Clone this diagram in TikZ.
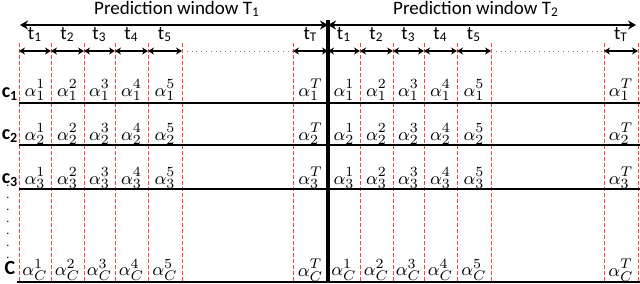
\documentclass[tikz,border=0pt]{standalone}
\usepackage{fontspec}
\setmainfont{Carlito}
\usetikzlibrary{arrows.meta}
\tikzset{
  tickline/.style={red!75, dashed, line width=0.5pt, dash pattern=on 2pt off 1pt},
  steparrow/.style={{Stealth[length=3pt,width=3.5pt]}-{Stealth[length=3pt,width=3.5pt]}, line width=0.8pt},
  winarrow/.style={{Stealth[length=4pt,width=4.5pt]}-{Stealth[length=4pt,width=4.5pt]}, line width=1pt},
  rowline/.style={line width=0.7pt},
  alab/.style={font=\fontsize{9.5}{10}\selectfont, inner sep=0pt},
  clab/.style={font=\fontsize{10}{11}\selectfont\bfseries, inner sep=0pt}
}
\begin{document}
\begin{tikzpicture}[x=0.5pt,y=-0.5pt]
\useasboundingbox (0,0) rectangle (640,283);
% time marks
\foreach \x [count=\i] in {19,51,84,115,148,182,293,328}
  \coordinate (a\i) at (\x,51);
\foreach \x [count=\i] in {328,360,393,424,457,491,604,638}
  \coordinate (b\i) at (\x,51);
\foreach \x in {19,51,84,115,148,182,293,360,393,424,457,491,604,638}
  \draw[tickline] (\x,43) -- (\x,283);
% rows
\draw[rowline] (19,103) -- (640,103);
\draw[rowline] (19,145) -- (640,145);
\draw[line width=1.2pt] (19,189) -- (640,189);
\draw[line width=1pt] (17,282) -- (640,282);
\draw[line width=1.6pt] (328,20) -- (328,283);
% prediction windows
\coordinate (wl) at (20,25);
\coordinate (wm) at (328,25);
\coordinate (wr) at (636,25);
\draw[winarrow] (wl) -- (wm);
\draw[winarrow] (wm) -- (wr);
\node[font=\fontsize{9.5}{10}\selectfont] (win1) at (177,9) {Prediction window T\textsubscript{1}};
\node[font=\fontsize{9.5}{10}\selectfont] (win2) at (476,9) {Prediction window T\textsubscript{2}};
% steps
\foreach \i/\j/\k in {1/2/1,2/3/2,3/4/3,4/5/4,5/6/5,7/8/T} {
  \draw[steparrow] (a\i) -- node[above=1pt, font=\fontsize{9.5}{10}\selectfont] (ta\k) {t\textsubscript{\k}} (a\j);
  \draw[steparrow] (b\i) -- node[above=1pt, font=\fontsize{9.5}{10}\selectfont] (tb\k) {t\textsubscript{\k}} (b\j);
}
\draw[dotted, gray] (a6) -- (a7);
\draw[dotted, gray] (b6) -- (b7);
% channel labels
\node[clab] (c1) at (10,94) {c\textsubscript{1}};
\node[clab] (c2) at (10,136) {c\textsubscript{2}};
\node[clab] (c3) at (10,180) {c\textsubscript{3}};
\node[clab] (cC) at (10,268) {C};
\foreach \y [count=\n] in {186,198,210,222,234,246,258}
  \node[inner sep=0pt, font=\fontsize{6}{6}\selectfont] (dot\n) at (8,\y) {.};
% coefficients
\foreach \r/\y in {1/90,2/134,3/178,C/270} {
  \foreach \x/\k in {35/1,67.5/2,99.5/3,131.5/4,165/5,310.5/T} {
    \node[alab] (pa\r\k) at (\x,\y) {$\alpha_{\r}^{\k}$};
  }
  \foreach \x/\k in {344/1,376.5/2,408.5/3,440.5/4,474/5,621/T} {
    \node[alab] (pb\r\k) at (\x,\y) {$\alpha_{\r}^{\k}$};
  }
}
\end{tikzpicture}
\end{document}
